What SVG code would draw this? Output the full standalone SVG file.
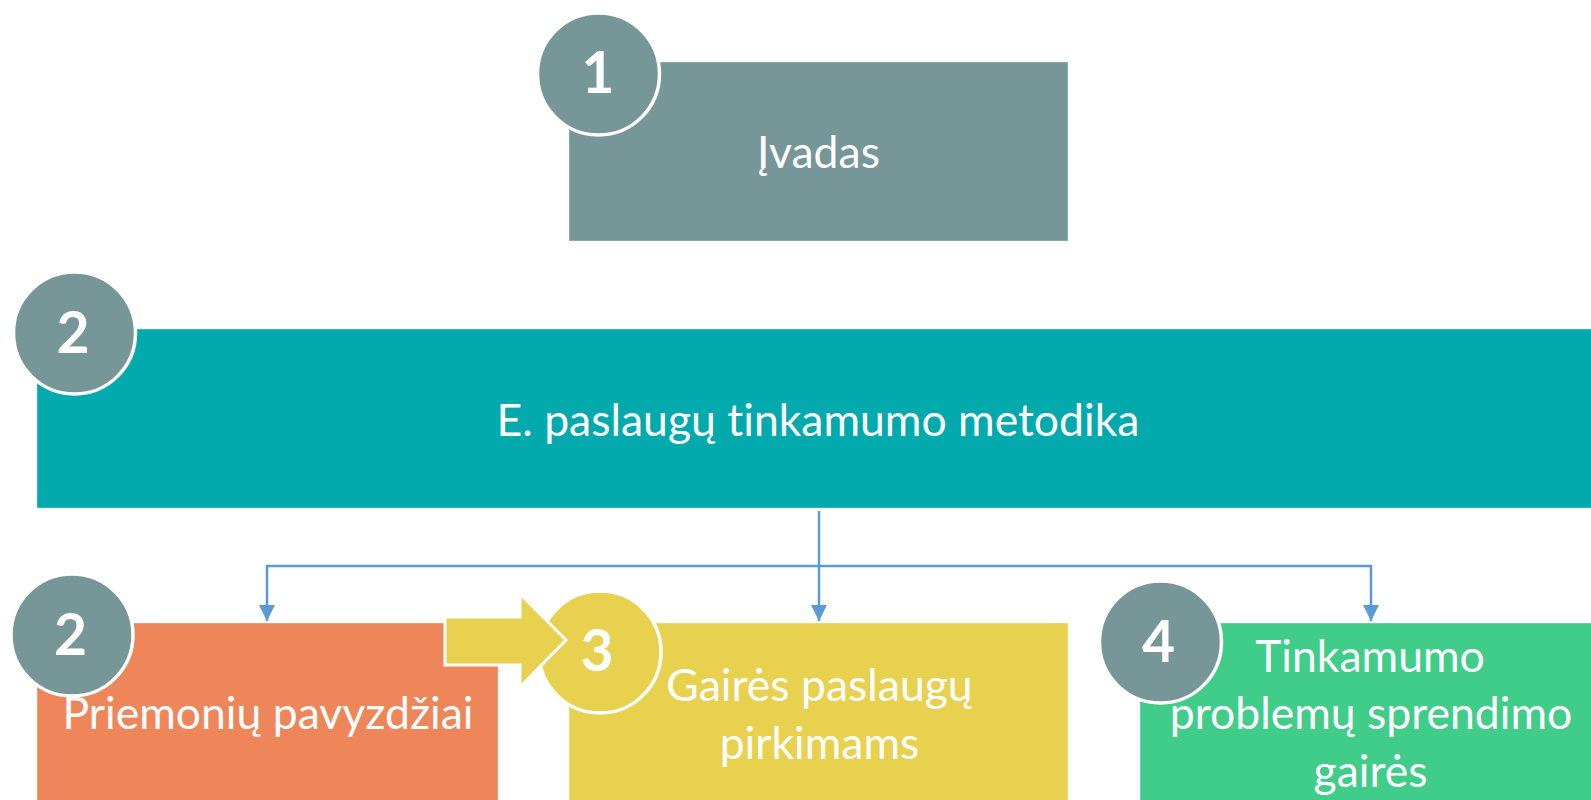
<svg xmlns="http://www.w3.org/2000/svg" width="1591" height="800" viewBox="0 0 1591 800">
<style>
.box{stroke:#ffffff;stroke-opacity:0.35;stroke-width:1}
.circ{stroke:#ffffff;stroke-width:3.5}
.num{font-family:Lato,"Open Sans",sans-serif;font-weight:bold;font-size:57px;fill:#ffffff;text-anchor:middle}
.lbl{font-family:Lato,"Open Sans",sans-serif;font-size:44.5px;fill:#ffffff;text-anchor:middle;font-variant-ligatures:none}
.conn{fill:none;stroke:#5B9BD5;stroke-width:2.5}
</style>
<defs>
<marker id="ah" markerUnits="userSpaceOnUse" markerWidth="16" markerHeight="16" refX="16" refY="8" orient="auto" viewBox="0 0 16 16">
<path d="M0,0 L16,8 L0,16 z" fill="#5B9BD5"/>
</marker>
</defs>
<rect width="1591" height="800" fill="#ffffff"/>
<g id="node1">
<rect class="box" x="569" y="62" width="499" height="179" fill="#779698"/>
<circle class="circ" cx="598.5" cy="74" r="61" fill="#779698"/>
<text class="num" x="598" y="93">1</text>
<text class="lbl" x="818.5" y="168">Įvadas</text>
</g>
<g id="node2">
<rect class="box" x="37" y="329" width="1560" height="179" fill="#03AAAD"/>
<circle class="circ" cx="74.5" cy="333" r="61" fill="#779698"/>
<text class="num" x="73" y="353">2</text>
<text class="lbl" x="818" y="436">E. paslaugų tinkamumo metodika</text>
</g>
<g id="node3">
<rect class="box" x="37" y="623" width="461" height="190" fill="#EE865A"/>
<circle class="circ" cx="72" cy="635" r="61" fill="#779698"/>
<text class="num" x="70.5" y="655">2</text>
<text class="lbl" x="268" y="729">Priemonių pavyzdžiai</text>
</g>
<g id="node4">
<rect class="box" x="569" y="623" width="499" height="190" fill="#E9D150"/>
<circle class="circ" cx="600" cy="652" r="61" fill="#E9D150"/>
<text class="num" x="597" y="671">3</text>
<text class="lbl" x="819.5" y="701">Gairės paslaugų</text>
<text class="lbl" x="819.5" y="758.5">pirkimams</text>
</g>
<g id="blockarrow">
<polygon points="445,617 520,617 520,594 566,640 520,687 520,665 445,665" fill="#E9D150" stroke="#ffffff" stroke-width="3"/>
</g>
<g id="node5">
<rect class="box" x="1140" y="623" width="460" height="190" fill="#40CD8A"/>
<circle class="circ" cx="1160.5" cy="642" r="61" fill="#779698"/>
<text class="num" x="1158.5" y="662">4</text>
<text class="lbl" x="1370" y="672">Tinkamumo</text>
<text class="lbl" x="1371" y="729">problemų sprendimo</text>
<text class="lbl" x="1370.5" y="786.5">gairės</text>
</g>
<g id="connectors">
<polyline class="conn" points="819,511 819,566"/>
<polyline class="conn" points="819,566 267,566 267,621" marker-end="url(#ah)"/>
<polyline class="conn" points="819,566 819,621" marker-end="url(#ah)"/>
<polyline class="conn" points="819,566 1371,566 1371,621" marker-end="url(#ah)"/>
</g>
</svg>
